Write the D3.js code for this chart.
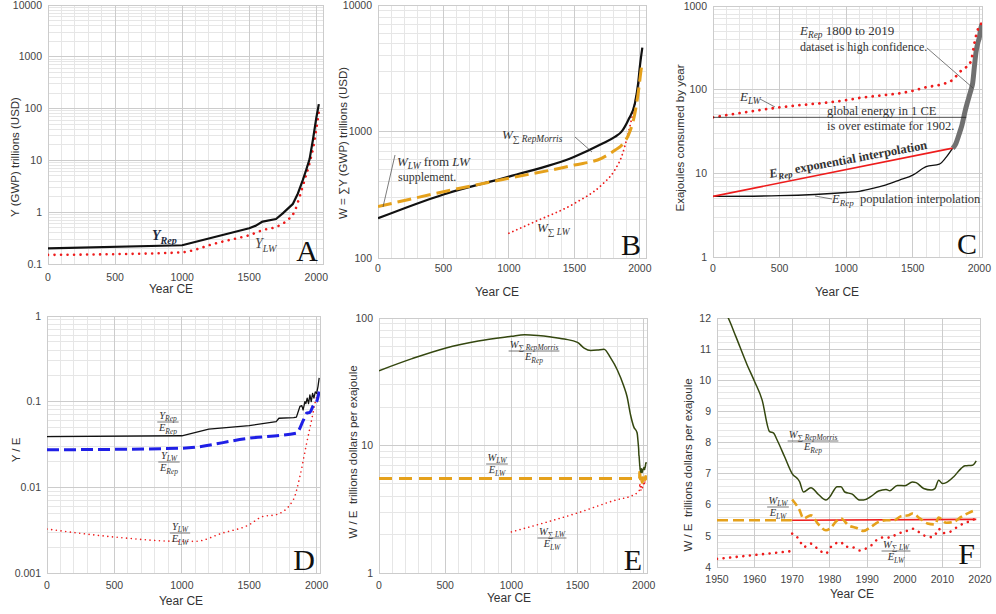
<!DOCTYPE html>
<html>
<head>
<meta charset="utf-8">
<script src="https://cdn.jsdelivr.net/npm/d3@7"></script>
<style>
body { margin: 0; background: #fff; }
svg { display: block; font-family: "Liberation Sans", Arial, sans-serif; }
</style>
</head>
<body>
<svg id="chart" width="996" height="614"></svg>
<script>
// ---- A: GWP ----
const yearsYRep = [0, 1000, 1500, 1550, 1600, 1700, 1750, 1800, 1826, 1863, 1900, 1925, 1950, 1975, 2000, 2019]
const yRep = [0.2, 0.23, 0.49, 0.55, 0.66, 0.74, 0.95, 1.25, 1.45, 2.3, 4.2, 6.6, 10.6, 25, 66, 122]
const yearsYLW = [0, 500, 1000, 1100, 1200, 1300, 1400, 1500, 1600, 1700, 1750, 1800, 1838, 1876, 1913, 1950, 1988, 2000, 2019]
const yLW = [0.15, 0.155, 0.168, 0.19, 0.23, 0.27, 0.31, 0.36, 0.45, 0.52, 0.6, 0.76, 1.03, 2.0, 4.2, 8.9, 25, 40, 85]

// ---- B: cumulative W ----
const yearsWRep = [0, 500, 1000, 1500, 1707, 1809, 1860, 1911, 1962, 1987, 2000, 2019]
const wRepMorris = [206, 318, 440, 632, 796, 907, 997, 1229, 1665, 2400, 3250, 4600]
const yearsWLW = [0, 500, 1000, 1500, 1707, 1809, 1873, 1924, 1962, 1987, 2013, 2019]
const wLW = [255, 334, 427, 543, 614, 711, 803, 998, 1388, 1998, 3250, 3560]
const yearsWSumLW = [1000, 1200, 1500, 1707, 1809, 1860, 1911, 1962, 1990, 2000]
const wSumLW = [157, 194, 270, 377, 497, 632, 966, 1670, 2400, 2790]

// ---- C: energy ----
const yearsELW = [0, 500, 1000, 1100, 1500, 1600, 1700, 1800, 1855, 1900, 1930, 1950, 1963, 1980, 1992, 2010, 2019]
const eLW = [46.7, 61.5, 75, 79.6, 97, 107, 114, 131, 164, 185, 207, 270, 358, 470, 541, 600, 630]
const yearsEExp = [0, 1800]
const eExp = [5.3, 20]
const yearsEPop = [0, 500, 1000, 1100, 1200, 1300, 1400, 1500, 1600, 1700, 1750, 1800]
const ePop = [5.3, 5.4, 5.9, 6.1, 6.6, 7.3, 8.3, 9.5, 12.0, 12.9, 15.5, 20]
const yearsERep = [1800, 1820, 1850, 1870, 1895, 1910, 1925, 1938, 1950, 1963, 1975, 1988, 2000, 2010, 2019]
const eRep = [20, 22, 30, 38, 57, 70, 85, 100, 120, 189, 280, 358, 420, 530, 600]

// ---- D: Y / E ----
const yearsYE = [0, 1000, 1200, 1500, 1700, 1720, 1830, 1850, 1876, 1890, 1900, 1913, 1920, 1930, 1940, 1950, 1960, 1970, 1980, 1990, 2000, 2010, 2019]
const yRepERep = [0.039, 0.040, 0.0477, 0.0526, 0.0586, 0.064, 0.065, 0.066, 0.088, 0.09, 0.08, 0.1, 0.095, 0.11, 0.095, 0.12, 0.1, 0.125, 0.11, 0.13, 0.125, 0.15, 0.19]
const yearsYLWERep = [0, 1000, 1500, 1850, 1900, 1926, 1950, 1975, 2000, 2019]
const yLWERep = [0.0274, 0.0286, 0.0375, 0.043, 0.06, 0.0734, 0.075, 0.09, 0.1, 0.131]
const yearsYLWELW = [0, 500, 1000, 1100, 1300, 1500, 1600, 1700, 1827, 1876, 1926, 1963, 1988, 2019]
const yLWELW = [0.00326, 0.00263, 0.00234, 0.00234, 0.00292, 0.00366, 0.00457, 0.0048, 0.00716, 0.0134, 0.0328, 0.0614, 0.096, 0.14]

// ---- E: W / E before 1950 ----
const yearsWEOld = [0, 250, 500, 750, 1000, 1100, 1200, 1300, 1400, 1500, 1550, 1600, 1650, 1700, 1750, 1800, 1850, 1875, 1900, 1925]
const wRepEOld = [38.6, 48, 58, 66, 71.8, 74, 73, 71, 68.4, 64.4, 58, 55.5, 56, 57, 48.6, 39.3, 29.1, 24, 17.5, 14]
const yearsWLWEOld = [0, 1969]
const wLWEOld = [5.5, 5.5]
const yearsWSumLWEOld = [1000, 1500, 1800, 1900]
const wSumLWEOld = [2.1, 2.96, 3.76, 4.0]

// ---- F: W / E 1950-2019 ----
const yearsFRep = [1950, 1953, 1955, 1958, 1960, 1962, 1964, 1965, 1966, 1968, 1970, 1972, 1973, 1975, 1977, 1979, 1980, 1982, 1983, 1984, 1986, 1988, 1989, 1991, 1993, 1995, 1996, 1998, 2000, 2002, 2003, 2005, 2007, 2008, 2009, 2010, 2011, 2013, 2015, 2016, 2018, 2019]
const fRep = [12.6, 12.0, 11.41, 10.5, 9.96, 9.37, 8.35, 8.31, 8.08, 7.54, 7.0, 6.74, 6.41, 6.55, 6.33, 6.15, 6.25, 6.58, 6.58, 6.41, 6.34, 6.15, 6.15, 6.27, 6.44, 6.49, 6.45, 6.62, 6.61, 6.73, 6.71, 6.52, 6.47, 6.52, 6.79, 6.68, 6.71, 6.9, 7.17, 7.25, 7.27, 7.41]
const yearsFLW = [1950, 1969.9, 1970, 1972, 1973, 1975, 1977, 1979, 1980, 1982, 1983, 1985, 1987, 1989, 1991, 1993, 1995, 1997, 1999, 2001, 2002, 2004, 2006, 2008, 2009, 2011, 2013, 2015, 2017, 2019]
const fLW = [5.5, 5.5, 6.17, 5.82, 5.56, 5.66, 5.37, 5.18, 5.23, 5.5, 5.56, 5.34, 5.26, 5.16, 5.29, 5.45, 5.5, 5.5, 5.63, 5.66, 5.72, 5.56, 5.4, 5.37, 5.59, 5.42, 5.45, 5.61, 5.74, 5.84]
const yearsFSumLW = [1950, 1969.9, 1970, 1972, 1973, 1975, 1977, 1979, 1980, 1982, 1983, 1984, 1986, 1988, 1989, 1991, 1993, 1995, 1996, 1998, 2000, 2002, 2003, 2005, 2007, 2008, 2009, 2010, 2012, 2014, 2016, 2018, 2019]
const fSumLW = [4.26, 4.51, 5.07, 4.86, 4.64, 4.75, 4.56, 4.43, 4.6, 4.78, 4.8, 4.66, 4.64, 4.53, 4.56, 4.69, 4.91, 4.96, 4.94, 5.07, 5.13, 5.23, 5.18, 5.02, 4.96, 5.02, 5.23, 5.09, 5.13, 5.29, 5.42, 5.5, 5.59]
const yearsFMean = [1970, 2019]
const fMean = [5.5, 5.53]

const serif = "'Liberation Serif', 'DejaVu Serif', serif"
const svg = d3.select("#chart")

const RED = "#ee1c1c", ORANGE = "#e5a11c", BLUE = "#1f1fe6", OLIVE = "#34470f"

function logRange(lo, hi, minor) {
  let out = []
  for (let e = Math.round(Math.log10(lo)); e < Math.round(Math.log10(hi)); e++) {
    if (minor) { for (let k = 2; k < 10; k++) out.push(+(k * Math.pow(10, e)).toPrecision(3)) }
    else out.push(+Math.pow(10, e).toPrecision(3))
  }
  if (!minor) out.push(hi)
  return out
}

function panel(p, id) {
  const x = d3.scaleLinear().domain(p.xDomain).range([p.left, p.right])
  const y = (p.log ? d3.scaleLog() : d3.scaleLinear()).domain(p.yDomain).range([p.bottom, p.top])
  const g = svg.append("g")

  g.append("clipPath").attr("id", "clip" + id)
    .append("rect").attr("x", p.left).attr("y", p.top)
    .attr("width", p.right - p.left).attr("height", p.bottom - p.top)

  const grid = g.append("g").attr("shape-rendering", "crispEdges")
  grid.selectAll(".xm").data(p.xMinor).join("line")
    .attr("x1", d => x(d)).attr("x2", d => x(d)).attr("y1", p.top).attr("y2", p.bottom)
    .attr("stroke", "#e6e6e6")
  grid.selectAll(".ym").data(p.yMinor).join("line")
    .attr("y1", d => y(d)).attr("y2", d => y(d)).attr("x1", p.left).attr("x2", p.right)
    .attr("stroke", "#e6e6e6")
  grid.selectAll(".xM").data(p.xTicks).join("line")
    .attr("x1", d => x(d)).attr("x2", d => x(d)).attr("y1", p.top).attr("y2", p.bottom)
    .attr("stroke", "#cccccc")
  grid.selectAll(".yM").data(p.yTicks).join("line")
    .attr("y1", d => y(d)).attr("y2", d => y(d)).attr("x1", p.left).attr("x2", p.right)
    .attr("stroke", "#cccccc")
  grid.append("rect").attr("x", p.left).attr("y", p.top)
    .attr("width", p.right - p.left).attr("height", p.bottom - p.top)
    .attr("fill", "none").attr("stroke", "#cccccc")

  g.selectAll(".xl").data(p.xTicks).join("text")
    .attr("x", d => x(d)).attr("y", p.bottom + p.tickOff)
    .attr("text-anchor", "middle").attr("font-size", 10.5).attr("fill", "#444")
    .text(d => d)
  g.selectAll(".yl").data(p.yTicks).join("text")
    .attr("x", p.left - 6).attr("y", d => y(d)).attr("dy", "0.35em")
    .attr("text-anchor", "end").attr("font-size", 10.5).attr("fill", "#444")
    .text(d => d)

  g.append("text").attr("x", p.xTitle[0]).attr("y", p.xTitle[1])
    .attr("text-anchor", "middle").attr("font-size", 12).attr("fill", "#333")
    .text("Year CE")
  g.append("text")
    .attr("transform", `translate(${p.yTitle[0]},${p.yTitle[1]}) rotate(-90)`)
    .attr("text-anchor", "middle").attr("font-size", 11.5).attr("fill", "#333")
    .attr("xml:space", "preserve")
    .text(p.yTitle[2])

  g.append("text").attr("x", p.right - 5).attr("y", p.bottom - 3)
    .attr("text-anchor", "end").attr("font-family", serif).attr("font-size", 30).attr("fill", "#111")
    .text(p.letter)

  const plot = g.append("g").attr("clip-path", `url(#clip${id})`)
  return { x, y, g, plot }
}

function drawLine(pn, xs, ys, st) {
  const pts = xs.map((d, i) => [d, ys[i]])
  const line = d3.line().x(d => pn.x(d[0])).y(d => pn.y(d[1])).curve(st.curve || d3.curveMonotoneX)
  pn.plot.append("path").datum(pts).attr("d", line)
    .attr("fill", "none").attr("stroke", st.color).attr("stroke-width", st.width)
    .attr("stroke-dasharray", st.dash || null)
    .attr("stroke-linecap", st.cap || "butt").attr("stroke-linejoin", "round")
}

function dots(color, w, gap) { return { color: color, width: w, dash: `0.01 ${gap}`, cap: "round" } }

// pieces: [text, kind]  kind i = italic, s = subscript, r = roman
function mathText(parent, x, y, pieces, size, anchor, fill) {
  const t = parent.append("text").attr("x", x).attr("y", y)
    .attr("font-family", serif).attr("font-size", size).attr("fill", fill || "#333")
    .attr("text-anchor", anchor || "start").attr("xml:space", "preserve")
  let down = false
  pieces.forEach(([s, k]) => {
    const ts = t.append("tspan").text(s)
    if (k === "s") {
      ts.attr("font-size", size * 0.72).attr("font-style", "italic")
      if (!down) { ts.attr("dy", size * 0.25); down = true }
    } else {
      if (down) { ts.attr("dy", -size * 0.25); down = false }
      ts.attr("font-style", k === "i" ? "italic" : "normal")
    }
  })
  return t
}

function frac(parent, cx, cy, num, den, size) {
  const g = parent.append("g")
  const a = mathText(g, cx, cy - 3.5, num, size, "middle")
  const b = mathText(g, cx, cy + size * 0.85, den, size, "middle")
  const w = Math.max(a.node().getBBox().width, b.node().getBBox().width)
  g.append("line").attr("x1", cx - w / 2 - 1).attr("x2", cx + w / 2 + 1)
    .attr("y1", cy).attr("y2", cy).attr("stroke", "#555").attr("stroke-width", 0.8)
}

function leader(parent, x1, y1, x2, y2) {
  parent.append("line").attr("x1", x1).attr("y1", y1).attr("x2", x2).attr("y2", y2)
    .attr("stroke", "#444").attr("stroke-width", 0.7)
}

const yearMinor = d3.range(0, 2001, 100)
const yearMajor = d3.range(0, 2001, 500)

// ---------- A ----------
const A = panel({ left: 48, right: 323, top: 5, bottom: 264, xDomain: [0, 2050], log: true, yDomain: [0.1, 10000],
  xTicks: yearMajor, xMinor: yearMinor, yTicks: logRange(0.1, 10000), yMinor: logRange(0.1, 10000, true),
  tickOff: 17, xTitle: [171, 293], yTitle: [19, 157, "Y (GWP) trillions (USD)"], letter: "A" }, "A")
drawLine(A, yearsYLW, yLW, dots(RED, 2.6, 6.5))
drawLine(A, yearsYRep, yRep, { color: "#111", width: 2.2, curve: d3.curveLinear })
mathText(A.g, 152, 240, [["Y", "i"], ["Rep", "s"]], 14, "start", "#1c2a3e").attr("font-weight", "bold")
mathText(A.g, 255, 248, [["Y", "i"], ["LW", "s"]], 14, "start", "#444")

// ---------- B ----------
const B = panel({ left: 378, right: 646, top: 5, bottom: 258, xDomain: [0, 2047], log: true, yDomain: [100, 10000],
  xTicks: yearMajor, xMinor: yearMinor, yTicks: logRange(100, 10000), yMinor: logRange(100, 10000, true),
  tickOff: 14, xTitle: [497, 296], yTitle: [347, 143, "W = \u2211Y (GWP) trillions (USD)"], letter: "B" }, "B")
drawLine(B, yearsWSumLW, wSumLW, dots(RED, 1.8, 4.3))
drawLine(B, yearsWRep, wRepMorris, { color: "#111", width: 2.2 })
drawLine(B, yearsWLW, wLW, { color: ORANGE, width: 3, dash: "14 6" })
mathText(B.g, 397, 166, [["W", "i"], ["LW", "s"], [" from ", "r"], ["LW", "i"]], 13)
mathText(B.g, 398, 181, [["supplement.", "r"]], 12)
leader(B.g, 395, 155, 383, 207)
mathText(B.g, 502, 139, [["W", "i"], ["\u2211 RepMorris", "s"]], 13)
leader(B.g, 575, 137, 592, 152)
mathText(B.g, 537, 232, [["W", "i"], ["\u2211 LW", "s"]], 13)

// ---------- C ----------
const C = panel({ left: 713, right: 982, top: 6, bottom: 257, xDomain: [0, 2020], log: true, yDomain: [1, 1000],
  xTicks: yearMajor, xMinor: yearMinor, yTicks: logRange(1, 1000), yMinor: logRange(1, 1000, true),
  tickOff: 15, xTitle: [837, 296], yTitle: [684, 138, "Exajoules consumed by year"], letter: "C" }, "C")
C.g.append("line").attr("x1", C.x(0)).attr("x2", C.x(1902)).attr("y1", C.y(eLW[0])).attr("y2", C.y(eLW[0]))
  .attr("stroke", "#222").attr("stroke-width", 0.8)
drawLine(C, yearsEPop, ePop, { color: "#111", width: 1.3 })
drawLine(C, yearsEExp, eExp, { color: RED, width: 1.6, curve: d3.curveLinear })
drawLine(C, yearsERep, eRep, { color: "#707070", width: 5 })
drawLine(C, yearsELW, eLW, dots(RED, 2.8, 6.7))
mathText(C.g, 800, 35, [["E", "i"], ["Rep", "s"], [" 1800 to 2019", "r"]], 13)
mathText(C.g, 800, 51, [["dataset is high confidence.", "r"]], 12)
leader(C.g, 927, 48, 973, 88)
mathText(C.g, 740, 101, [["E", "i"], ["LW", "s"]], 13)
leader(C.g, 760, 99, 775, 107)
mathText(C.g, 827, 115, [["global energy in 1 CE", "r"]], 12.5)
mathText(C.g, 827, 130, [["is over estimate for 1902.", "r"]], 12.5)
mathText(C.g, 0, 0, [["E", "i"], ["Rep", "s"], [" exponential interpolation", "r"]], 12.5)
  .attr("font-weight", "bold").attr("transform", "translate(770,178) rotate(-10.5)")
mathText(C.g, 832, 203, [["E", "i"], ["Rep", "s"], ["  population interpolation", "r"]], 12.5)
leader(C.g, 832, 199, 815, 196)

// ---------- D ----------
const D = panel({ left: 47, right: 320, top: 316, bottom: 573, xDomain: [0, 2025], log: true, yDomain: [0.001, 1],
  xTicks: yearMajor, xMinor: yearMinor, yTicks: logRange(0.001, 1), yMinor: logRange(0.001, 1, true),
  tickOff: 16, xTitle: [181, 605], yTitle: [20, 450, "Y / E"], letter: "D" }, "D")
drawLine(D, yearsYLWELW, yLWELW, dots(RED, 1.6, 4.7))
drawLine(D, yearsYE, yRepERep, { color: "#111", width: 1.3, curve: d3.curveLinear })
drawLine(D, yearsYLWERep, yLWERep, { color: BLUE, width: 3, dash: "12 5" })
frac(D.g, 168, 422, [["Y", "i"], ["Rep", "s"]], [["E", "i"], ["Rep", "s"]], 10.5)
frac(D.g, 169, 462, [["Y", "i"], ["LW", "s"]], [["E", "i"], ["Rep", "s"]], 10.5)
frac(D.g, 180, 533, [["Y", "i"], ["LW", "s"]], [["E", "i"], ["LW", "s"]], 10.5)

// ---------- E ----------
const E = panel({ left: 379, right: 647, top: 318, bottom: 573, xDomain: [0, 2025], log: true, yDomain: [1, 100],
  xTicks: yearMajor, xMinor: yearMinor, yTicks: logRange(1, 100), yMinor: logRange(1, 100, true),
  tickOff: 16, xTitle: [509, 602], yTitle: [357, 452, "W / E  trillions dollars per exajoule"], letter: "E" }, "E")
drawLine(E, yearsWSumLWEOld.concat(yearsFSumLW), wSumLWEOld.concat(fSumLW), dots(RED, 1.6, 4.5))
drawLine(E, yearsWLWEOld.concat(yearsFLW.slice(2)), wLWEOld.concat(fLW.slice(2)), { color: ORANGE, width: 3, dash: "13 7", curve: d3.curveLinear })
drawLine(E, yearsWEOld.concat(yearsFRep), wRepEOld.concat(fRep), { color: OLIVE, width: 1.5 })
frac(E.g, 534, 351, [["W", "i"], ["\u2211 RepMorris", "s"]], [["E", "i"], ["Rep", "s"]], 10.5)
frac(E.g, 497, 464, [["W", "i"], ["LW", "s"]], [["E", "i"], ["LW", "s"]], 10.5)
frac(E.g, 552, 538, [["W", "i"], ["\u2211 LW", "s"]], [["E", "i"], ["LW", "s"]], 10.5)

// ---------- F ----------
const F = panel({ left: 717, right: 980, top: 318, bottom: 567, xDomain: [1950, 2020], log: false, yDomain: [4, 12],
  xTicks: d3.range(1950, 2021, 10), xMinor: [], yTicks: d3.range(4, 12.01, 1), yMinor: d3.range(4, 12, 0.2),
  tickOff: 16, xTitle: [852, 598], yTitle: [692, 465, "W / E  trillions dollars per exajoule"], letter: "F" }, "F")
drawLine(F, yearsFMean, fMean, { color: RED, width: 1.6, curve: d3.curveLinear })
drawLine(F, yearsFLW.slice(0, 2), fLW.slice(0, 2), { color: ORANGE, width: 2.6, dash: "11 5", curve: d3.curveLinear })
drawLine(F, yearsFLW.slice(2), fLW.slice(2), { color: ORANGE, width: 2.6, dash: "8 4" })
drawLine(F, yearsFSumLW.slice(0, 2), fSumLW.slice(0, 2), dots(RED, 2.6, 6.6))
drawLine(F, yearsFSumLW.slice(2), fSumLW.slice(2), dots(RED, 2.6, 6.6))
drawLine(F, yearsFRep, fRep, { color: OLIVE, width: 1.5 })
frac(F.g, 813, 441, [["W", "i"], ["\u2211 RepMorris", "s"]], [["E", "i"], ["Rep", "s"]], 10.5)
frac(F.g, 778, 507, [["W", "i"], ["LW", "s"]], [["E", "i"], ["LW", "s"]], 10.5)
frac(F.g, 896, 551, [["W", "i"], ["\u2211 LW", "s"]], [["E", "i"], ["LW", "s"]], 10.5)
</script>
</body>
</html>
